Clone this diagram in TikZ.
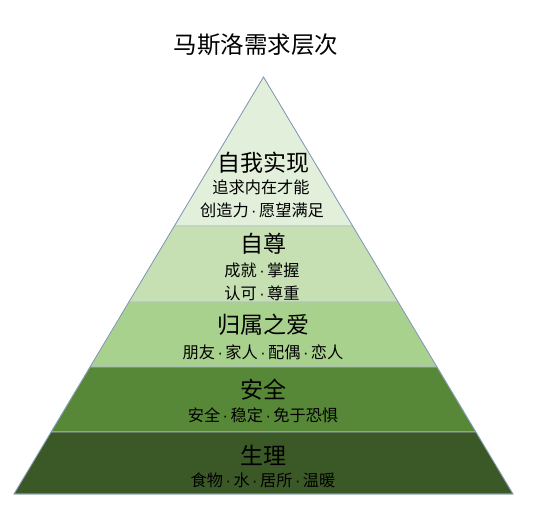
\documentclass[tikz,border=0pt]{standalone}
\usepackage{fontspec}
\setmainfont{Noto Sans CJK SC}
\newfontfamily\latinf{Liberation Sans}
\newcommand\sep{\hspace{2.5pt}{\latinf ·}\hspace{2.5pt}}
\usetikzlibrary{calc}
\definecolor{lvA}{HTML}{E2EFDA}
\definecolor{lvB}{HTML}{C6E0B4}
\definecolor{lvC}{HTML}{A9D18E}
\definecolor{lvD}{HTML}{578837}
\definecolor{lvE}{HTML}{3B5926}
\definecolor{edgeC}{HTML}{8096B0}

\begin{document}
\begin{tikzpicture}[x=1pt,y=-1pt,
    head/.style={font=\fontsize{23}{25}\selectfont,inner sep=0pt},
    sub/.style={font=\fontsize{16.2}{18}\selectfont,inner sep=0pt}]
  \useasboundingbox (0,0) rectangle (545,506);
  \coordinate (apex) at (263.5,77);
  \coordinate (bl) at (14,494);
  \coordinate (br) at (513,494);

  % layers, top to bottom
  \foreach\a\b\c in {0/0.3573/lvA, 0.3573/0.5396/lvB, 0.5396/0.6954/lvC,
                     0.6954/0.8513/lvD, 0.8513/1/lvE}
    {\filldraw[fill=\c,draw=edgeC!60,line width=0.6pt]
      ($(apex)!\a!(bl)$) -- ($(apex)!\b!(bl)$) -- ($(apex)!\b!(br)$) -- ($(apex)!\a!(br)$) -- cycle;}
  \draw[edgeC,line width=0.7pt] (apex) -- (bl) -- (br) -- cycle;

  \node[head,font=\fontsize{23.5}{25}\selectfont] (title) at (256,45) {马斯洛需求层次};

  \node[head] (selfH) at (263,163) {自我实现};
  \node[sub] (selfA) at (261,187) {追求内在才能};
  \node[sub] (selfB) at (262,210) {创造力\sep 愿望满足};

  \node[head] (estH) at (263,244) {自尊};
  \node[sub] (estA) at (262,270) {成就\sep 掌握};
  \node[sub] (estB) at (262,293) {认可\sep 尊重};

  \node[head] (loveH) at (263,325) {归属之爱};
  \node[sub] (loveA) at (263,352) {朋友\sep 家人\sep 配偶\sep 恋人};

  \node[head] (safeH) at (263,390) {安全};
  \node[sub] (safeA) at (263,415) {安全\sep 稳定\sep 免于恐惧};

  \node[head] (bodyH) at (263,455) {生理};
  \node[sub] (bodyA) at (263,480) {食物\sep 水\sep 居所\sep 温暖};
\end{tikzpicture}
\end{document}
